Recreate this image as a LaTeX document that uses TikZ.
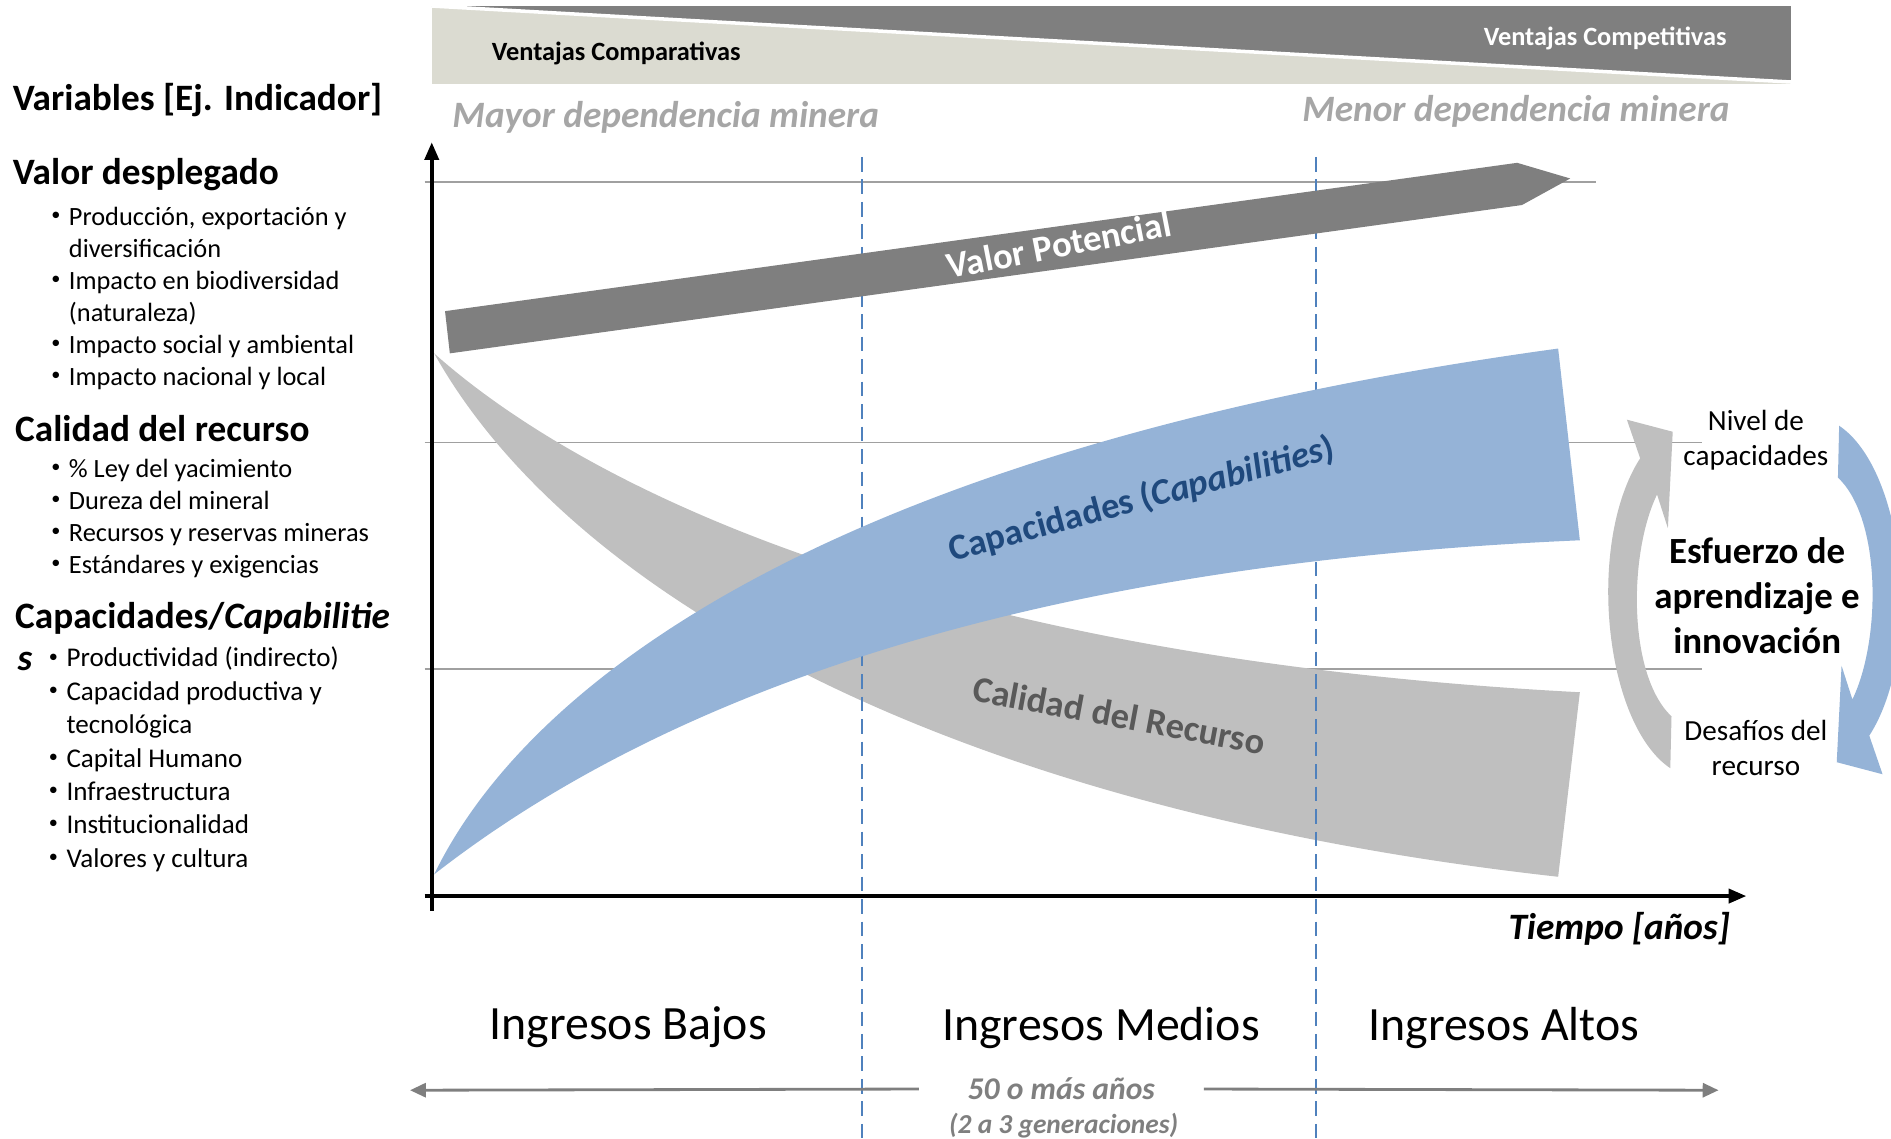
\documentclass[tikz,border=0pt]{standalone}
\usepackage{fontspec}
\setmainfont{Carlito}
\usetikzlibrary{arrows.meta}
\definecolor{bandgray}{HTML}{BFBFBF}
\definecolor{bandblue}{HTML}{95B3D7}
\definecolor{darkblue}{HTML}{1F497D}
\definecolor{arrowgray}{HTML}{7F7F7F}
\definecolor{beige}{HTML}{DBDBD1}
\definecolor{textgray}{HTML}{A6A6A6}
\definecolor{labelgray}{HTML}{595959}
\definecolor{gridgray}{HTML}{A0A0A0}
\definecolor{dashblue}{HTML}{4F81BD}
\newcommand{\itembul}{\makebox[5pt][l]{\raisebox{1.4pt}{\fontsize{5.2}{5}\selectfont\textbullet}}}

\begin{document}
\begin{tikzpicture}[x=0.1206mm,y=-0.1206mm,
  vartitle/.style={anchor=base west,inner sep=0,font=\fontsize{10.6}{12}\selectfont\bfseries},
  varlist/.style={anchor=base west,inner sep=0,font=\fontsize{7.5}{9.1}\selectfont},
  bandlbl/.style={font=\fontsize{10.4}{12}\selectfont\bfseries},
  depend/.style={font=\fontsize{10.6}{12}\selectfont\bfseries\itshape,textgray},
  ingreso/.style={font=\fontsize{13.6}{16}\selectfont},
  cyclelbl/.style={align=center,font=\fontsize{8.3}{10}\selectfont},
  gridline/.style={gridgray,line width=0.5pt},
  dashline/.style={dashblue,line width=0.6pt,dash pattern=on 4.2pt off 2.2pt},
  axis/.style={line width=1pt,-{Triangle[length=5pt,width=4pt]}},
  spanarrow/.style={arrowgray,line width=0.8pt,-{Triangle[length=4.5pt,width=4pt]}}]
\useasboundingbox (0,0) rectangle (1568,944);

\fill[beige] (358,5) rectangle (1485,70);
\fill[arrowgray] (358,5) -- (1485,5) -- (1485,68) -- cycle;
\draw[white,line width=1pt] (358,5) -- (1485,68);
\node[font=\fontsize{7.5}{9}\selectfont\bfseries] (comparativas) at (511,44) {Ventajas Comparativas};
\node[font=\fontsize{7.5}{9}\selectfont\bfseries,white] (competitivas) at (1331,32) {Ventajas Competitivas};
\node[depend] (mayor) at (552,97) {Mayor dependencia minera};
\node[depend] (menor) at (1257,92) {Menor dependencia minera};

\node[vartitle] (vars) at (10,92) {Variables [Ej. Indicador]};
\node[vartitle] (valor) at (10,153) {Valor desplegado};
\node[varlist] (valorlist) at (42,187) {\begin{tabular}[t]{@{}l@{}l@{}}
\itembul & Producción, exportación y\\
 & diversificación\\
\itembul & Impacto en biodiversidad\\
 & (naturaleza)\\
\itembul & Impacto social y ambiental\\
\itembul & Impacto nacional y local
\end{tabular}};
\node[vartitle] (calidad) at (12,366) {Calidad del recurso};
\node[varlist] (calidadlist) at (42,396) {\begin{tabular}[t]{@{}l@{}l@{}}
\itembul & \% Ley del yacimiento\\
\itembul & Dureza del mineral\\
\itembul & Recursos y reservas mineras\\
\itembul & Estándares y exigencias
\end{tabular}};
\node[vartitle] (capac) at (12,521) {Capacidades/\textit{Capabilitie}};
\node[vartitle] (capacs) at (14,556) {\textit{s}};
\node[varlist,font=\fontsize{7.7}{9.5}\selectfont] (capaclist) at (40,553) {\begin{tabular}[t]{@{}l@{}l@{}}
\itembul & Productividad (indirecto)\\
\itembul & Capacidad productiva y\\
 & tecnológica\\
\itembul & Capital Humano\\
\itembul & Infraestructura\\
\itembul & Institucionalidad\\
\itembul & Valores y cultura
\end{tabular}};

\draw[gridline] (352,151) -- (1323,151);
\draw[gridline] (352,367) -- (1411,367);
\draw[gridline] (352,555) -- (1411,555);

\fill[bandgray] (360,293) .. controls (480,400) and (760,545) .. (1310,574) -- (1292,727) .. controls (780,670) and (470,490) .. (360,293) -- cycle;
\draw[dashline] (715,130) -- (715,944);
\draw[dashline] (1091,130) -- (1091,944);
\fill[bandblue] (360,725) .. controls (440,560) and (700,370) .. (1292,289) -- (1310,448) .. controls (800,470) and (520,600) .. (360,725) -- cycle;
\fill[arrowgray] (369,258) -- (1258,135) -- (1302,148) -- (1262,170) -- (373,293) -- cycle;

\node[bandlbl,white,rotate=11] (valorpot) at (878,203) {Valor Potencial};
\node[bandlbl,darkblue,rotate=15] (caplbl) at (947,414) {Capacidades (\textit{Capabilities})};
\node[bandlbl,labelgray,rotate=-10.5] (callbl) at (928,593) {Calidad del Recurso};

\draw[axis] (358,755) -- (358,118);
\draw[axis] (352,743) -- (1448,743);
\node[anchor=east,inner sep=0,font=\fontsize{10.6}{12}\selectfont\bfseries\itshape] (tiempo) at (1435,770) {Tiempo [años]};

\fill[bandgray] (1385,637) .. controls (1330,600) and (1315,450) .. (1360,380) -- (1349,348) -- (1387,358) -- (1383,438) -- (1374,410) .. controls (1350,460) and (1350,560) .. (1386,594) -- cycle;
\fill[bandblue] (1525,353) .. controls (1580,390) and (1595,540) .. (1550,610) -- (1561,642) -- (1523,632) -- (1527,552) -- (1536,580) .. controls (1560,530) and (1560,430) .. (1524,396) -- cycle;
\node[cyclelbl] (nivel) at (1456,365) {Nivel de\\capacidades};
\node[align=center,font=\fontsize{10.5}{12.7}\selectfont\bfseries] (esfuerzo) at (1457,494) {Esfuerzo de\\aprendizaje e\\innovación};
\node[cyclelbl] (desafios) at (1456,620) {Desafíos del\\recurso};

\node[ingreso] (bajos) at (521,852) {Ingresos Bajos};
\node[ingreso] (medios) at (913,852) {Ingresos Medios};
\node[ingreso] (altos) at (1247,852) {Ingresos Altos};

\node[inner xsep=13.7pt,font=\fontsize{9}{11}\selectfont\bfseries\itshape,arrowgray] (anios) at (880,903) {50 o más años};
\node[font=\fontsize{7.8}{9}\selectfont\bfseries\itshape,arrowgray] (gener) at (882,933) {(2 a 3 generaciones)};
\coordinate (spanl) at (340,904);
\coordinate (spanr) at (1425,904);
\draw[spanarrow] (anios.west) -- (spanl);
\draw[spanarrow] (anios.east) -- (spanr);
\end{tikzpicture}
\end{document}
